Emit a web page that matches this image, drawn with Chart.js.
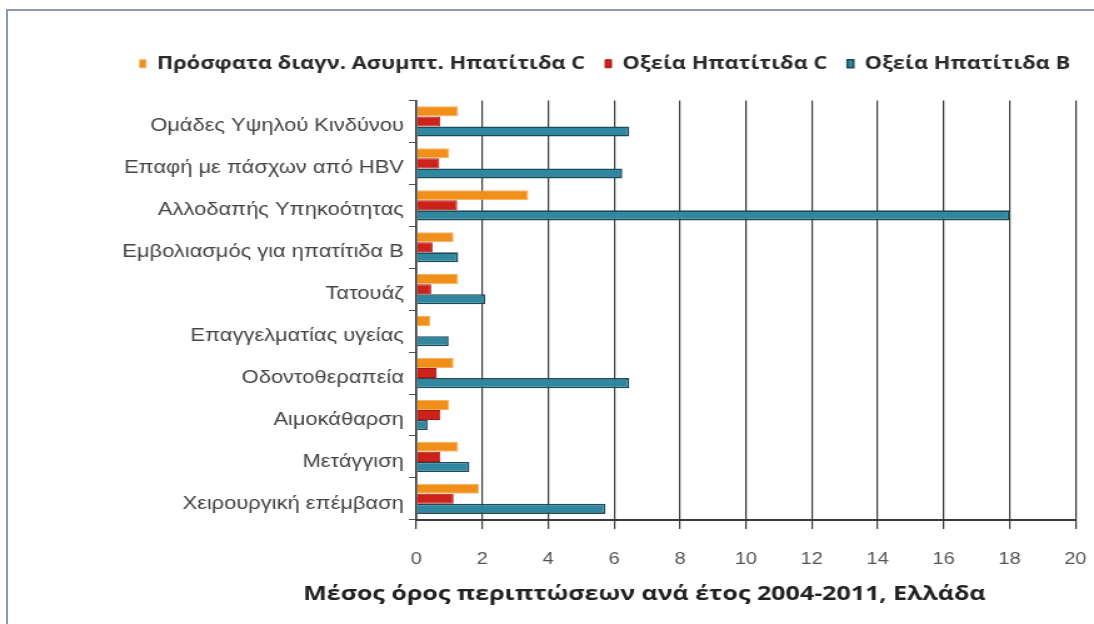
<!DOCTYPE html>
<html>
<head>
<meta charset="utf-8">
<script src="https://cdn.jsdelivr.net/npm/chart.js@4.4.1/dist/chart.umd.min.js"></script>
<style>
  html, body { margin: 0; padding: 0; background: #fff; overflow: hidden; }
  #frame { position: absolute; left: 6px; top: 9px; width: 1100px; height: 620px;
           border-left: 2px solid #8e99b8; border-top: 2px solid #8e99b8; }
  #wrap { position: absolute; left: 0; top: 0; width: 875px; height: 624px;
          transform: scaleX(1.2503); transform-origin: 0 0; }
</style>
</head>
<body>
<div id="frame"></div>
<div id="wrap"><canvas id="c" width="875" height="624"></canvas></div>
<script>
const categories = [
  'Ομάδες Υψηλού Κινδύνου',
  'Επαφή με πάσχων από HBV',
  'Αλλοδαπής Υπηκοότητας',
  'Εμβολιασμός για ηπατίτιδα Β',
  'Τατουάζ',
  'Επαγγελματίας υγείας',
  'Οδοντοθεραπεία',
  'Αιμοκάθαρση',
  'Μετάγγιση',
  'Χειρουργική επέμβαση'
];
const seriesNames = ['Πρόσφατα διαγν. Ασυμπτ. Ηπατίτιδα C', 'Οξεία Ηπατίτιδα C', 'Οξεία Ηπατίτιδα Β'];
const recentAsymptHepC = [1.27, 1.0, 3.4, 1.13, 1.27, 0.42, 1.13, 1.0, 1.27, 1.9];
const acuteHepC        = [0.73, 0.7, 1.24, 0.49, 0.45, 0, 0.61, 0.73, 0.73, 1.13];
const acuteHepB        = [6.46, 6.25, 18.0, 1.27, 2.09, 0.98, 6.46, 0.34, 1.61, 5.74];
const xTicks = [0, 2, 4, 6, 8, 10, 12, 14, 16, 18, 20];
const xTitle = 'Μέσος όρος περιπτώσεων ανά έτος 2004-2011, Ελλάδα';

const FONT = '"Liberation Sans", Arial, sans-serif';
const BOLDFONT = '"Open Sans", "Liberation Sans", sans-serif';

// draws the x-axis title, centred a little left of the plot centre as in the original
const xTitlePlugin = {
  id: 'xTitlePlugin',
  afterDraw(chart) {
    const a = chart.chartArea, ctx = chart.ctx;
    ctx.save();
    ctx.font = 'bold 20px ' + BOLDFONT;
    ctx.fillStyle = '#222';
    ctx.textAlign = 'center';
    ctx.textBaseline = 'middle';
    ctx.fillText(xTitle, a.left + a.width * 0.346, chart.scales.x.bottom + 19);
    ctx.restore();
  }
};

new Chart(document.getElementById('c'), {
  type: 'bar',
  data: {
    labels: categories,
    datasets: [
      { label: seriesNames[0], data: recentAsymptHepC, backgroundColor: '#f0901a', borderColor: '#f5b260', borderWidth: 1 },
      { label: seriesNames[1], data: acuteHepC, backgroundColor: '#cc2219', borderColor: '#a81717', borderWidth: 1 },
      { label: seriesNames[2], data: acuteHepB, backgroundColor: '#2f88a0', borderColor: '#1d4b58', borderWidth: 1.6 }
    ]
  },
  plugins: [xTitlePlugin],
  options: {
    indexAxis: 'y',
    responsive: false,
    animation: false,
    layout: { padding: { left: 8, right: 3, top: 39, bottom: 49 } },
    datasets: { bar: { categoryPercentage: 0.72, barPercentage: 1.0 } },
    plugins: {
      tooltip: { enabled: false },
      subtitle: { display: true, text: '', position: 'top', weight: 500, padding: 0,
                  font: { size: 10, lineHeight: 1.8 } },
      legend: {
        position: 'top',
        align: 'end',
        labels: {
          font: { family: BOLDFONT, size: 17.5, weight: 'bold' },
          color: '#2a2a2a',
          boxWidth: 5, boxHeight: 8,
          padding: 16
        }
      }
    },
    scales: {
      x: {
        min: 0, max: 20,
        afterBuildTicks: (s) => { s.ticks = xTicks.map(v => ({ value: v })); },
        grid: { color: '#3a3a3a', lineWidth: 1.2, tickLength: 24, drawTicks: true, tickBorderDash: [8, 200] },
        border: { color: '#3a3a3a', width: 2 },
        ticks: { font: { family: FONT, size: 16 }, color: '#555', padding: 6 }
      },
      y: {
        afterFit: (s) => { s.width = 325; },
        grid: { drawOnChartArea: false, drawTicks: true, tickLength: 6, color: '#555', offset: true },
        border: { color: '#3a3a3a', width: 1.6 },
        ticks: { font: { family: FONT, size: 17.5 }, color: '#444', padding: 4, labelOffset: 5 }
      }
    }
  }
});
</script>
</body>
</html>
